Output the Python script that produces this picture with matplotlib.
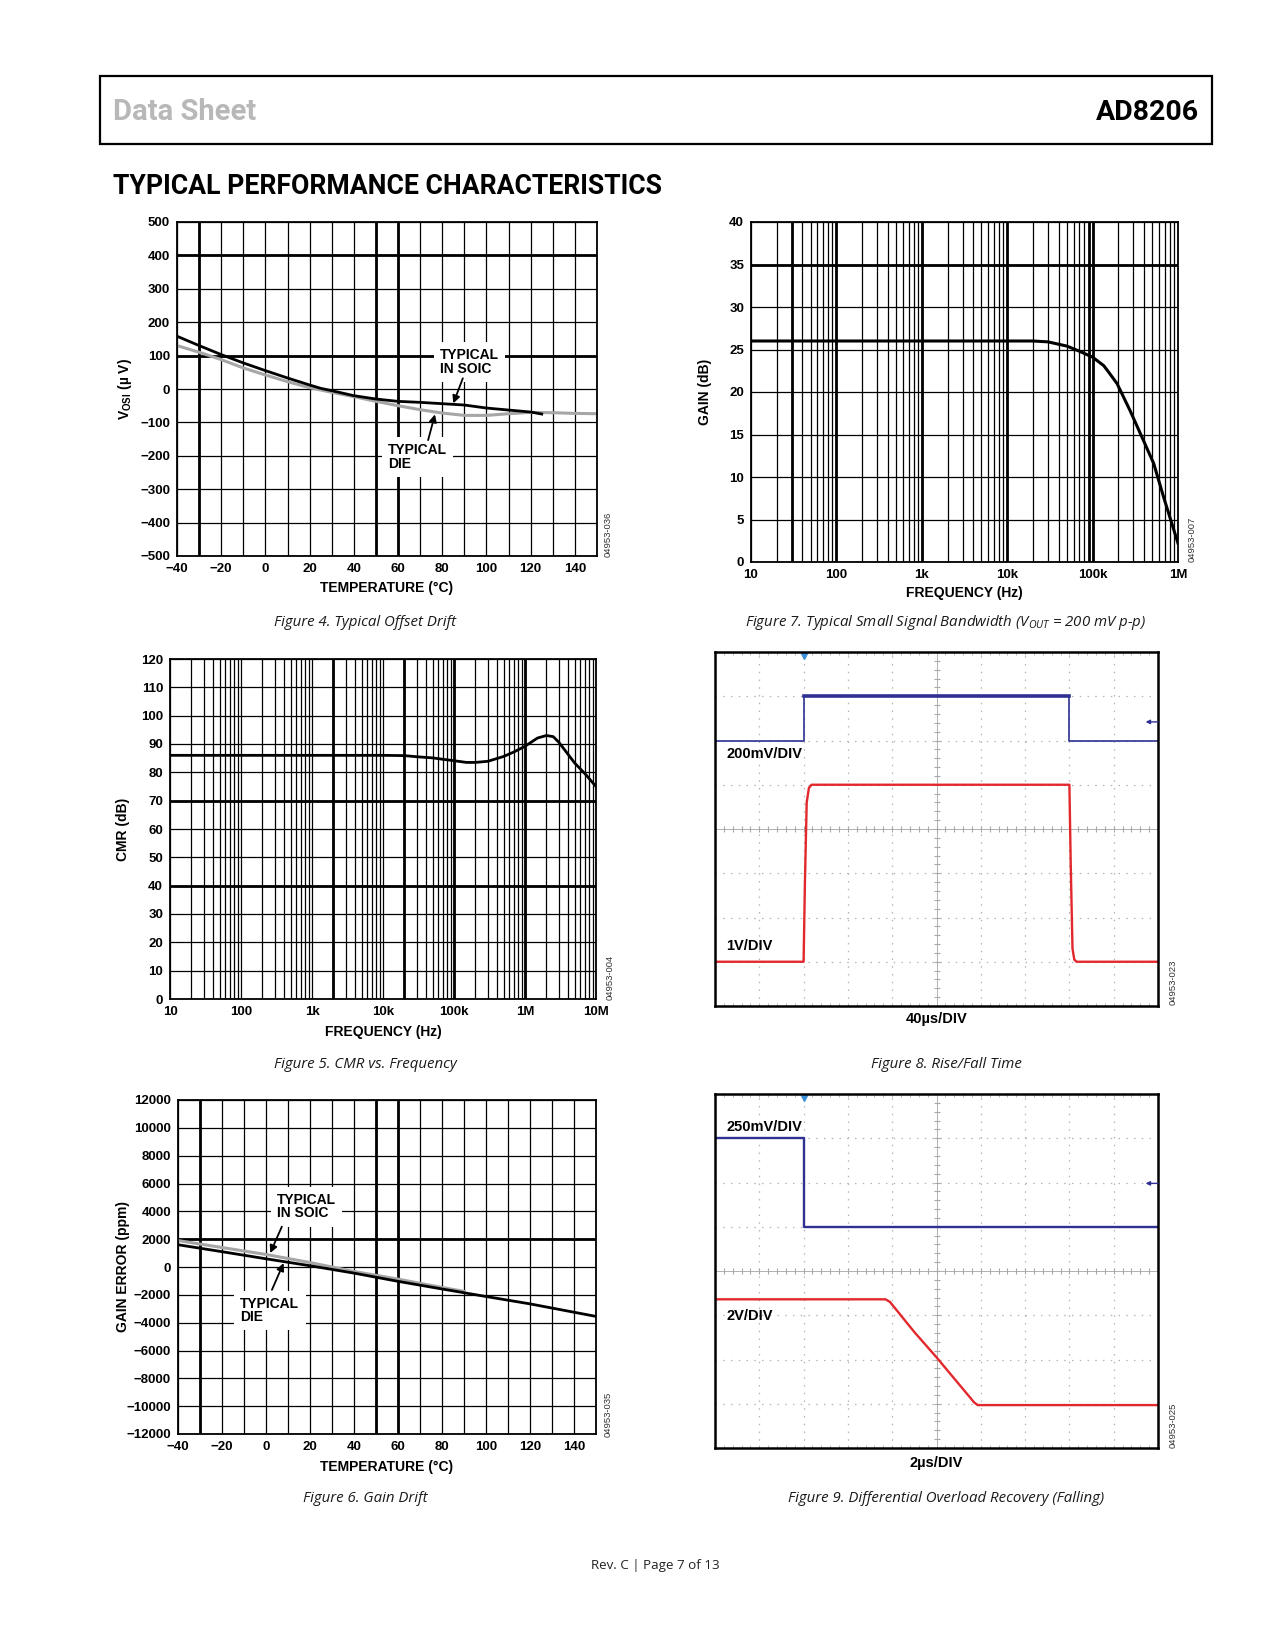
import numpy as np
import matplotlib
matplotlib.use('Agg')
import matplotlib.pyplot as plt
from matplotlib.patches import Rectangle
from matplotlib.ticker import MultipleLocator, LogLocator, NullFormatter, FixedLocator, FixedFormatter

# ---- data ----
# Figure 4: offset drift
temp_soic = [-40, -30, -20, -10, 0, 10, 20, 25, 30, 40, 50, 60, 70, 80, 90, 100, 110, 120, 125]
vos_soic = [158, 130, 103, 78, 55, 33, 12, 2, -5, -20, -30, -37, -40, -44, -48, -57, -63, -69, -75]
temp_die = [-40, -30, -20, -10, 0, 10, 20, 30, 40, 50, 60, 70, 80, 90, 100, 110, 120, 130, 140, 150]
vos_die = [130, 110, 88, 63, 42, 22, 4, -10, -23, -37, -50, -62, -72, -79, -79, -74, -70, -71, -73, -74]

# Figure 5: CMR vs frequency
cmr_freq = [10, 1e3, 1e4, 2e4, 3e4, 5e4, 7e4, 1e5, 1.5e5, 2e5, 3e5, 5e5, 7e5, 1e6, 1.5e6, 2e6,
            2.5e6, 3e6, 4e6, 5e6, 7e6, 1e7]
cmr_db = [86, 86, 86, 85.9, 85.5, 85.1, 84.6, 84.1, 83.5, 83.5, 83.9, 85.6, 87.2, 89.2, 92.1, 93.0,
          92.6, 90.6, 86.5, 83.3, 79.5, 75]

# Figure 6: gain drift
temp_gdie = [-40, -20, 0, 20, 40, 60, 80, 100, 120, 150]
gerr_die = [1600, 1100, 590, 90, -440, -1030, -1580, -2120, -2650, -3550]
temp_gsoic = [-40, -20, 0, 20, 40, 60, 80, 90]
gerr_soic = [1900, 1400, 900, 320, -320, -870, -1470, -1750]

# Figure 7: small signal bandwidth
bw_freq = [10, 100, 1e3, 1e4, 2e4, 3e4, 5e4, 7e4, 1e5, 1.35e5, 1.5e5, 1.93e5, 2.75e5, 3.78e5, 5.19e5,
           6.8e5, 1e6]
bw_gain = [26, 26, 26, 26, 26, 25.9, 25.4, 24.8, 24.1, 23.1, 22.5, 21.0, 17.8, 14.7, 11.6, 7.6, 2.2]

# Figure 8: rise/fall (scope divisions)
f8_blue_t = [0, 2.0, 2.0, 8.0, 8.0, 10]
f8_blue_v = [6.0, 6.0, 7.0, 7.0, 6.0, 6.0]
f8_red_t = [0, 2.0, 2.03, 2.07, 2.12, 2.18, 8.0, 8.03, 8.07, 8.11, 8.16, 10]
f8_red_v = [1.0, 1.0, 2.8, 4.6, 4.93, 5.0, 5.0, 3.2, 1.3, 1.05, 1.0, 1.0]
f8_trig, f8_gnd = 2.0, 6.42

# Figure 9: differential overload recovery
f9_blue_t = [0, 2.0, 2.0, 10]
f9_blue_v = [7.0, 7.0, 5.0, 5.0]
f9_red_t = [0, 3.85, 3.95, 4.5, 5.0, 5.5, 5.85, 5.93, 10]
f9_red_v = [3.36, 3.36, 3.30, 2.62, 2.05, 1.45, 1.03, 0.97, 0.97]
f9_trig, f9_gnd = 2.0, 5.98

W, H = 1275, 1650
plt.rcParams['font.family'] = 'Liberation Sans'
plt.rcParams['font.weight'] = 'bold'
plt.rcParams['mathtext.fontset'] = 'custom'
plt.rcParams['mathtext.rm'] = 'Liberation Sans:bold'
plt.rcParams['mathtext.bf'] = 'Liberation Sans:bold'
plt.rcParams['mathtext.it'] = 'Open Sans:style=italic:weight=normal'

fig = plt.figure(figsize=(12.75, 16.5), dpi=100)


def px_axes(x0, y0, x1, y1):
    return fig.add_axes([x0 / W, 1 - y1 / H, (x1 - x0) / W, (y1 - y0) / H])


def ftext(x, y, s, **kw):
    fig.text(x / W, 1 - y / H, s, **kw)


def chart_style(ax):
    ax.tick_params(which='both', length=0, pad=5, labelsize=9.5)
    for sp in ax.spines.values():
        sp.set_linewidth(1.3)
    ax.grid(which='both', color='k', lw=0.9)
    ax.set_axisbelow(True)


def caption(x, y, s):
    ftext(x, y, s, ha='center', va='center', fontsize=10.8, family='Open Sans',
          style='italic', weight='normal', color='#1a1a1a')


def fig_id(x, ybot, s):
    ftext(x, ybot, s, rotation=90, ha='center', va='bottom', fontsize=6.8,
          weight='normal', color='#333333')


# ---- page header ----
fig.add_artist(Rectangle((100 / W, 1 - 144 / H), 1112 / W, 68 / H, transform=fig.transFigure,
                         fill=False, lw=1.6, ec='k'))
ftext(113, 112, 'Data Sheet', fontsize=21, color='#b8b8b8', family='Roboto',
      va='center', ha='left')
ftext(1199, 112, 'AD8206', fontsize=20.5, color='k', family='Roboto',
      va='center', ha='right')
ftext(113, 186, 'TYPICAL PERFORMANCE CHARACTERISTICS', fontsize=19.2, family='Roboto',
      va='center', ha='left')

# ---- Figure 4 ----
ax = px_axes(177, 222, 597, 556)
ax.plot(temp_die, vos_die, color='#a6a6a6', lw=2.2, zorder=2)
ax.plot(temp_soic, vos_soic, color='k', lw=2.0, zorder=2.1)
ax.set_xlim(-40, 150)
ax.set_ylim(-500, 500)
ax.set_xticks(np.arange(-40, 141, 20))
ax.xaxis.set_minor_locator(MultipleLocator(10))
ax.set_yticks(np.arange(-500, 501, 100))
chart_style(ax)
for v in [-30, 50, 60]:
    ax.axvline(v, color='k', lw=2.0, zorder=1)
for v in [400, 100]:
    ax.axhline(v, color='k', lw=2.0, zorder=1)
box = dict(boxstyle='square,pad=0.45', fc='white', ec='none')
ax.text(79, 122, 'TYPICAL\nIN SOIC', fontsize=10, va='top', ha='left', linespacing=0.95, bbox=box, zorder=3)
ax.text(55.5, -162, 'TYPICAL\nDIE', fontsize=10, va='top', ha='left', linespacing=0.95, bbox=box, zorder=3)
arw = dict(arrowstyle='-|>', color='k', lw=1.3, mutation_scale=11, shrinkA=0, shrinkB=0)
ax.annotate('', xy=(85, -43), xytext=(89.3, 32), arrowprops=arw)
ax.annotate('', xy=(76.7, -76), xytext=(73.6, -153), arrowprops=arw)
ftext(125, 389, 'V$_{\\mathrm{OSI}}$ (µ V)', rotation=90, ha='center', va='center', fontsize=10)
ftext(387, 588, 'TEMPERATURE (°C)', ha='center', va='center', fontsize=10)
fig_id(608, 557, '04953-036')
caption(365, 623, 'Figure 4. Typical Offset Drift')

# ---- Figure 7 ----
ax = px_axes(751, 222, 1178, 562)
ax.plot(bw_freq, bw_gain, color='k', lw=2.2)
ax.set_xscale('log')
ax.set_xlim(10, 1e6)
ax.set_ylim(0, 40)
ax.set_yticks(np.arange(0, 41, 5))
ax.xaxis.set_major_locator(FixedLocator([10, 1e2, 1e3, 1e4, 1e5, 1e6]))
ax.xaxis.set_major_formatter(FixedFormatter(['10', '100', '1k', '10k', '100k', '1M']))
ax.xaxis.set_minor_locator(LogLocator(base=10, subs=np.arange(2, 10), numticks=30))
ax.xaxis.set_minor_formatter(NullFormatter())
chart_style(ax)
for v in [30, 100, 1e3, 1e4, 9e4, 1e5]:
    ax.axvline(v, color='k', lw=2.0, zorder=1)
ax.axhline(35, color='k', lw=2.0, zorder=1)
ftext(705, 392, 'GAIN (dB)', rotation=90, ha='center', va='center', fontsize=10)
ftext(964, 593, 'FREQUENCY (Hz)', ha='center', va='center', fontsize=10)
fig_id(1192, 562, '04953-007')
caption(946, 623, 'Figure 7. Typical Small Signal Bandwidth (V$_{\\mathit{OUT}}$ = 200 mV p-p)')

# ---- Figure 5 ----
ax = px_axes(170, 659, 596, 999)
ax.plot(cmr_freq, cmr_db, color='k', lw=2.0)
ax.set_xscale('log')
ax.set_xlim(10, 1e7)
ax.set_ylim(0, 120)
ax.set_yticks(np.arange(0, 121, 10))
ax.xaxis.set_major_locator(FixedLocator([10, 1e2, 1e3, 1e4, 1e5, 1e6, 1e7]))
ax.xaxis.set_major_formatter(FixedFormatter(['10', '100', '1k', '10k', '100k', '1M', '10M']))
ax.xaxis.set_minor_locator(LogLocator(base=10, subs=np.arange(2, 10), numticks=30))
ax.xaxis.set_minor_formatter(NullFormatter())
chart_style(ax)
for v in [2e3, 2e4, 1e5, 1e6]:
    ax.axvline(v, color='k', lw=2.0, zorder=1)
for v in [70, 40]:
    ax.axhline(v, color='k', lw=2.0, zorder=1)
ftext(123, 829, 'CMR (dB)', rotation=90, ha='center', va='center', fontsize=10)
ftext(383, 1032, 'FREQUENCY (Hz)', ha='center', va='center', fontsize=10)
fig_id(610, 1000, '04953-004')
caption(365, 1065, 'Figure 5. CMR vs. Frequency')

# ---- Figure 6 ----
ax = px_axes(178, 1100, 596, 1434)
ax.plot(temp_gsoic, gerr_soic, color='#a6a6a6', lw=2.2, zorder=2)
ax.plot(temp_gdie, gerr_die, color='k', lw=2.0, zorder=2.1)
ax.set_xlim(-40, 150)
ax.set_ylim(-12000, 12000)
ax.set_xticks(np.arange(-40, 141, 20))
ax.xaxis.set_minor_locator(MultipleLocator(10))
ax.set_yticks(np.arange(-12000, 12001, 2000))
chart_style(ax)
for v in [-30, 50, 60]:
    ax.axvline(v, color='k', lw=2.0, zorder=1)
ax.axhline(2000, color='k', lw=2.0, zorder=1)
ax.text(5.1, 5320, 'TYPICAL\nIN SOIC', fontsize=10, va='top', ha='left', linespacing=0.95, bbox=box, zorder=3)
ax.text(-11.7, -2140, 'TYPICAL\nDIE', fontsize=10, va='top', ha='left', linespacing=0.95, bbox=box, zorder=3)
ax.annotate('', xy=(1.9, 1000), xytext=(7.2, 2900), arrowprops=arw)
ax.annotate('', xy=(8.0, 280), xytext=(2.7, -1640), arrowprops=arw)
ftext(123, 1267, 'GAIN ERROR (ppm)', rotation=90, ha='center', va='center', fontsize=10)
ftext(387, 1467, 'TEMPERATURE (°C)', ha='center', va='center', fontsize=10)
fig_id(608, 1437, '04953-035')
caption(365, 1498, 'Figure 6. Gain Drift')


# ---- scope shots ----
navy = '#2e3192'
red = '#e2282c'


def scope_axes(x0, y0, x1, y1):
    ax = px_axes(x0, y0, x1, y1)
    ax.set_xlim(0, 10)
    ax.set_ylim(0, 8)
    ax.set_xticks([])
    ax.set_yticks([])
    for sp in ax.spines.values():
        sp.set_linewidth(1.8)
    for i in range(1, 10):
        if i != 5:
            ax.axvline(i, color='#b4b4b4', lw=0.9, ls=(0, (1.2, 5)), zorder=0.5)
    for j in range(1, 8):
        if j != 4:
            ax.axhline(j, color='#b4b4b4', lw=0.9, ls=(0, (1.2, 5)), zorder=0.5)
    ax.axvline(5, color='#b0b0b0', lw=0.7, zorder=0.5)
    ax.axhline(4, color='#b0b0b0', lw=0.7, zorder=0.5)
    ht = np.arange(0, 10.01, 0.2)
    vt = np.arange(0, 8.01, 0.2)
    ax.plot(ht, np.full_like(ht, 4), ls='none', marker='|', ms=5, mew=0.8, color='#a8a8a8', zorder=0.6)
    ax.plot(np.full_like(vt, 5), vt, ls='none', marker='_', ms=5, mew=0.8, color='#a8a8a8', zorder=0.6)
    ax.plot(ht, np.full_like(ht, 8), ls='none', marker='|', ms=4, mew=0.7, color='#b4b4b4', zorder=0.6)
    ax.plot(ht, np.full_like(ht, 0), ls='none', marker='|', ms=4, mew=0.7, color='#b4b4b4', zorder=0.6)
    return ax


# Figure 8
ax = scope_axes(715, 652, 1158, 1006)
ax.plot(f8_blue_t, f8_blue_v, color=navy, lw=1.2)
bt, bv = np.array(f8_blue_t), np.array(f8_blue_v)
ax.plot(bt[bv == bv.max()], bv[bv == bv.max()], color=navy, lw=2.6)
ax.plot(f8_red_t, f8_red_v, color=red, lw=1.7)
ax.plot(f8_trig, 7.93, marker='v', color='#3a8fd6', ms=6)
ax.annotate('', xy=(9.72, f8_gnd), xytext=(10.0, f8_gnd),
            arrowprops=dict(arrowstyle='-|>', color=navy, lw=1.0, mutation_scale=6, shrinkA=0, shrinkB=0))
ax.text(0.26, 5.70, '200mV/DIV', fontsize=10.5, va='center', ha='left')
ax.text(0.26, 1.35, '1V/DIV', fontsize=10.5, va='center', ha='left')
ftext(937, 1019, '40µs/DIV', ha='center', va='center', fontsize=10.5)
fig_id(1173, 1005, '04953-023')
caption(946, 1065, 'Figure 8. Rise/Fall Time')

# Figure 9
ax = scope_axes(715, 1094, 1158, 1448)
ax.plot(f9_blue_t, f9_blue_v, color=navy, lw=1.7)
ax.plot(f9_red_t, f9_red_v, color=red, lw=1.7)
ax.plot(f9_trig, 7.93, marker='v', color='#3a8fd6', ms=6)
ax.annotate('', xy=(9.72, f9_gnd), xytext=(10.0, f9_gnd),
            arrowprops=dict(arrowstyle='-|>', color=navy, lw=1.0, mutation_scale=6, shrinkA=0, shrinkB=0))
ax.text(0.26, 7.26, '250mV/DIV', fontsize=10.5, va='center', ha='left')
ax.text(0.26, 2.98, '2V/DIV', fontsize=10.5, va='center', ha='left')
ftext(936, 1463, '2µs/DIV', ha='center', va='center', fontsize=10.5)
fig_id(1173, 1448, '04953-025')
caption(946, 1498, 'Figure 9. Differential Overload Recovery (Falling)')

ftext(655, 1565, 'Rev. C | Page 7 of 13', ha='center', va='center', fontsize=9.6,
      family='Open Sans', weight='normal', color='#222222')

fig.savefig('out.png', dpi=100, facecolor='white')
